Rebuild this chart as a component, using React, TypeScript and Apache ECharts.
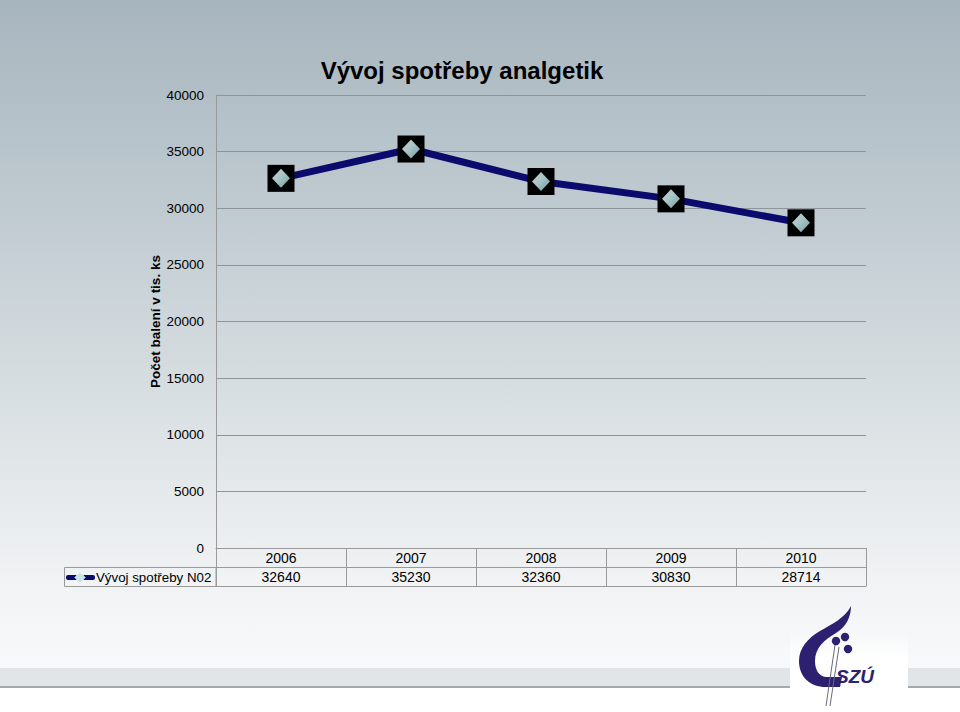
import React, { useEffect, useRef } from "react";
import * as echarts from "echarts";

const TITLE = "Vývoj spotřeby analgetik";
const Y_NAME = "Počet balení v tis. ks";
const SERIES_NAME = "Vývoj spotřeby N02";
const YEARS = ["2006", "2007", "2008", "2009", "2010"];
const VALUES = [32640, 35230, 32360, 30830, 28714];
const Y_MIN = 0;
const Y_MAX = 40000;
const Y_STEP = 5000;

const FONT = "'Liberation Sans', Arial, sans-serif";
const NAVY = "#0b0b6e";
const LOGO = "#2e2070";

const LOGO_D =
  "M61 6 C55 18 42 24 30 31 C18 38 9 48 9 61 C9 77 20 87 36 87 L50 87 L52 77 L37 77 C29 77 25 70 25 61 C25 48 34 40 46 33 C56 27 61 17 61 6 Z";

let registered = false;
function registerLogo() {
  if (registered) return;
  registered = true;
  echarts.graphic.registerShape("szuLogo", echarts.graphic.extendPath(LOGO_D, {}) as any);
}

export default function App() {
  const ref = useRef<HTMLDivElement>(null);

  useEffect(() => {
    if (!ref.current) return;
    registerLogo();
    const chart = echarts.init(ref.current, undefined, { renderer: "svg" });

    const gridLeft = 216;
    const gridRight = 866;
    const gridBottomY = 548;

    const option: any = {
      animation: false,
      backgroundColor: {
        type: "linear",
        x: 0,
        y: 0,
        x2: 0,
        y2: 1,
        colorStops: [
          { offset: 0, color: "#a7b5be" },
          { offset: 0.3, color: "#c0cbd1" },
          { offset: 0.6, color: "#dce2e5" },
          { offset: 0.82, color: "#f1f3f4" },
          { offset: 0.94, color: "#f8f9fa" },
          { offset: 1, color: "#ffffff" },
        ],
      },
      title: {
        text: TITLE,
        left: 457,
        top: 53,
        textAlign: "center",
        textStyle: { fontFamily: FONT, fontSize: 24, fontWeight: "bold", color: "#000" },
      },
      grid: { left: gridLeft, right: 960 - gridRight, top: 95, bottom: 712 - gridBottomY },
      xAxis: [
        {
          type: "category",
          data: YEARS,
          boundaryGap: true,
          axisLine: { show: true, lineStyle: { color: "#9a9a9a", width: 1 } },
          axisTick: { show: true, interval: 0, length: 38, lineStyle: { color: "#9a9a9a" } },
          axisLabel: { interval: 0, margin: 3, fontFamily: FONT, fontSize: 14, color: "#000" },
        },
        {
          type: "category",
          data: YEARS,
          position: "bottom",
          offset: 19,
          boundaryGap: true,
          axisLine: { show: true, lineStyle: { color: "#9a9a9a", width: 1 } },
          axisTick: { show: false },
          axisLabel: {
            interval: 0,
            margin: 3,
            fontFamily: FONT,
            fontSize: 14,
            color: "#000",
            formatter: (_v: string, i: number) => String(VALUES[i]),
          },
        },
        {
          type: "category",
          data: YEARS,
          position: "bottom",
          offset: 38,
          axisLine: { show: true, lineStyle: { color: "#9a9a9a", width: 1 } },
          axisTick: { show: false },
          axisLabel: { show: false },
        },
      ],
      yAxis: {
        type: "value",
        min: Y_MIN,
        max: Y_MAX,
        interval: Y_STEP,
        name: Y_NAME,
        nameLocation: "middle",
        nameGap: 54,
        nameMoveOverlap: false,
        nameRotate: 90,
        nameTextStyle: { fontFamily: FONT, fontSize: 13.5, fontWeight: "bold", color: "#000" },
        axisLine: { show: true, lineStyle: { color: "#9a9a9a" } },
        axisTick: { show: false },
        axisLabel: {
          margin: 12,
          fontFamily: FONT,
          fontSize: 13.5,
          color: "#000",
          formatter: (v: number) => String(v),
        },
        splitLine: { show: true, lineStyle: { color: "#8e9499", width: 1 } },
      },
      series: [
        {
          name: SERIES_NAME,
          type: "line",
          data: VALUES,
          xAxisIndex: 0,
          lineStyle: { color: NAVY, width: 7 },
          symbol: "rect",
          symbolSize: 27,
          itemStyle: { color: "#000" },
          z: 2,
          silent: true,
        },
        {
          name: SERIES_NAME + " marker",
          type: "scatter",
          data: VALUES,
          xAxisIndex: 0,
          symbol: "diamond",
          symbolSize: [18, 19],
          itemStyle: {
            color: {
              type: "linear",
              x: 0,
              y: 0,
              x2: 1,
              y2: 1,
              colorStops: [
                { offset: 0, color: "#f6ffff" },
                { offset: 0.45, color: "#d4f6f8" },
                { offset: 1, color: "#86c6cb" },
              ],
            },
          },
          z: 3,
          silent: true,
        },
      ],
      graphic: [
        { type: "rect", z: -10, shape: { x: 0, y: 668, width: 960, height: 18 }, style: { fill: "#e1e5e8" } },
        { type: "rect", z: -10, shape: { x: 0, y: 686, width: 960, height: 2 }, style: { fill: "#a3a7ae" } },
        { type: "rect", z: -10, shape: { x: 0, y: 688, width: 960, height: 24 }, style: { fill: "#ffffff" } },
        // legend cell of the data table
        {
          type: "rect",
          shape: { x: 64.5, y: 567.5, width: gridLeft - 64.5, height: 19 },
          style: { fill: "none", stroke: "#9a9a9a", lineWidth: 1 },
        },
        { type: "rect", shape: { x: 66, y: 575, width: 29, height: 5, r: 2 }, style: { fill: NAVY } },
        {
          type: "polygon",
          shape: { points: [[80, 572], [85, 577.5], [80, 583], [75, 577.5]] },
          style: { fill: "#c4e6e9", stroke: "#eef8f9", lineWidth: 1 },
        },
        {
          type: "text",
          x: 96,
          y: 577,
          style: { text: SERIES_NAME, font: `13.3px ${FONT}`, fill: "#000", verticalAlign: "middle" },
        },
        // logo
        {
          type: "rect",
          shape: { x: 790, y: 630, width: 118, height: 82 },
          style: {
            fill: {
              type: "linear",
              x: 0,
              y: 0,
              x2: 0,
              y2: 1,
              colorStops: [
                { offset: 0, color: "rgba(255,255,255,0)" },
                { offset: 0.35, color: "rgba(255,255,255,1)" },
                { offset: 1, color: "rgba(255,255,255,1)" },
              ],
            },
          },
        },
        { type: "szuLogo", x: 790, y: 600, style: { fill: LOGO } },
        { type: "line", shape: { x1: 835, y1: 645, x2: 826, y2: 706 }, style: { stroke: "#6a6a80", lineWidth: 1 } },
        { type: "line", shape: { x1: 839, y1: 647, x2: 830, y2: 706 }, style: { stroke: "#6a6a80", lineWidth: 1 } },
        { type: "circle", shape: { cx: 836, cy: 641, r: 4.2 }, style: { fill: LOGO } },
        { type: "circle", shape: { cx: 845, cy: 637, r: 4.2 }, style: { fill: LOGO } },
        { type: "circle", shape: { cx: 848, cy: 649, r: 4.2 }, style: { fill: LOGO } },
        {
          type: "text",
          x: 836,
          y: 667,
          style: { text: "SZÚ", font: `italic bold 19px ${FONT}`, fill: LOGO },
        },
      ],
    };

    chart.setOption(option);
    return () => chart.dispose();
  }, []);

  return <div ref={ref} style={{ position: "fixed", left: 0, top: 0, width: 960, height: 712 }} />;
}
